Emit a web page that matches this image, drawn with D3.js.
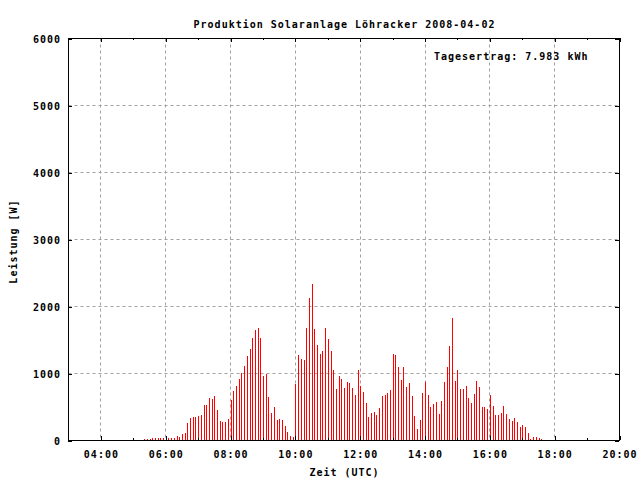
<!DOCTYPE html>
<html>
<head>
<meta charset="utf-8">
<script src="https://cdn.jsdelivr.net/npm/d3@7"></script>
<style>
  html, body { margin: 0; padding: 0; background: #fff; }
  svg text { font-family: "DejaVu Sans Mono", "Liberation Mono", monospace; font-weight: bold; font-size: 10px; letter-spacing: 1px; fill: #000; }
</style>
</head>
<body>
<svg id="chart" width="640" height="480"></svg>
<script>
// ---- data ----
const title = "Produktion Solaranlage Löhracker 2008-04-02";
const yieldLabel = "Tagesertrag: 7.983 kWh";
const xAxisTitle = "Zeit (UTC)";
const yAxisTitle = "Leistung [W]";
const startTime = "05:21";        // first sample
const stepMinutes = 5;            // sampling interval
// power readings in W, one per sample
const power = [
  15, 15, 15, 30, 30, 30, 30, 30, 30, 30,
  30, 30, 60, 45, 95, 105, 255, 330, 345, 345,
  360, 375, 525, 525, 630, 615, 660, 450, 285, 270,
  270, 315, 600, 735, 810, 915, 1005, 1110, 1260, 1365,
  1530, 1650, 1680, 1530, 960, 990, 645, 405, 495, 300,
  315, 300, 210, 120, 60, 45, 845, 1275, 1215, 1200,
  1680, 2130, 2340, 1660, 1425, 1290, 1335, 1680, 1515, 1335,
  1050, 765, 960, 915, 780, 870, 855, 780, 675, 1050,
  810, 720, 555, 345, 405, 420, 375, 480, 660, 675,
  705, 750, 1290, 1275, 1095, 900, 1095, 795, 855, 660,
  360, 165, 300, 705, 870, 675, 495, 540, 570, 390,
  585, 870, 1095, 1410, 1830, 885, 1050, 765, 765, 810,
  630, 555, 690, 885, 795, 495, 495, 465, 675, 510,
  375, 375, 405, 510, 390, 315, 285, 330, 270, 195,
  225, 195, 105, 15, 45, 45, 30, 15
];
const xTickLabels = ["04:00", "06:00", "08:00", "10:00", "12:00", "14:00", "16:00", "18:00", "20:00"];
const yTicks = [0, 1000, 2000, 3000, 4000, 5000, 6000];

// ---- helpers ----
const toMin = s => { const [h, m] = s.split(":").map(Number); return h * 60 + m; };
const t0 = toMin(startTime);
const samples = power.map((v, i) => ({ t: t0 + i * stepMinutes, v }));

const L = 68.5, R = 619.5, T = 38.5, B = 440.5;
const x = d3.scaleLinear().domain([180, 1200]).range([L, R]);
const y = d3.scaleLinear().domain([0, 6000]).range([B, T]);
const crisp = v => Math.round(v - 0.5) + 0.5;

const svg = d3.select("#chart");

// grid
const xMajor = xTickLabels.map(toMin);
const xMinor = d3.range(5 * 60, 20 * 60, 120);
const grid = svg.append("g").attr("stroke", "#a0a0a0").attr("stroke-width", 1).attr("stroke-dasharray", "3,3");
grid.selectAll("line.gx").data(xMajor.filter(m => m < 1200)).join("line")
  .attr("x1", d => crisp(x(d))).attr("x2", d => crisp(x(d)))
  .attr("y1", T).attr("y2", B);
grid.selectAll("line.gy").data(yTicks.filter(v => v > 0 && v < 6000)).join("line")
  .attr("x1", L).attr("x2", R)
  .attr("y1", d => crisp(y(d))).attr("y2", d => crisp(y(d)));

// bars (impulses)
svg.append("g").attr("shape-rendering", "crispEdges").selectAll("rect").data(samples).join("rect")
  .attr("x", d => Math.round(x(d.t) - 0.5))
  .attr("width", 1)
  .attr("y", d => Math.round(y(d.v)))
  .attr("height", d => Math.max(0, 440 - Math.round(y(d.v))))
  .attr("fill", "#ff0000");

// axes using d3 axis generators for ticks (inward)
const axBottom = d3.axisBottom(x).tickValues(xMajor).tickSize(-4).tickFormat("");
const axBottomMinor = d3.axisBottom(x).tickValues(xMinor).tickSize(-2).tickFormat("");
const axTop = d3.axisTop(x).tickValues(xMajor).tickSize(-4).tickFormat("");
const axTopMinor = d3.axisTop(x).tickValues(xMinor).tickSize(-2).tickFormat("");
const axLeft = d3.axisLeft(y).tickValues(yTicks).tickSize(-4).tickFormat("");
const axRight = d3.axisRight(y).tickValues(yTicks).tickSize(-4).tickFormat("");
function styleAxis(g) {
  g.select(".domain").remove();
  g.selectAll(".tick line").attr("stroke", "#000").attr("shape-rendering", "crispEdges");
}
svg.append("g").attr("transform", `translate(0,${B - 0.5})`).call(axBottom).call(styleAxis);
svg.append("g").attr("transform", `translate(0,${B - 0.5})`).call(axBottomMinor).call(styleAxis);
svg.append("g").attr("transform", `translate(0,${T - 0.5})`).call(axTop).call(styleAxis);
svg.append("g").attr("transform", `translate(0,${T - 0.5})`).call(axTopMinor).call(styleAxis);
svg.append("g").attr("transform", `translate(${L - 0.5},0)`).call(axLeft).call(styleAxis);
svg.append("g").attr("transform", `translate(${R - 0.5},0)`).call(axRight).call(styleAxis);

// border
svg.append("rect").attr("x", L).attr("y", T).attr("width", R - L).attr("height", B - T)
  .attr("fill", "none").attr("stroke", "#000").attr("stroke-width", 1);

// tick labels
svg.append("g").selectAll("text").data(yTicks).join("text")
  .attr("x", 61).attr("y", d => y(d) + 4)
  .attr("text-anchor", "end").text(d => d);
svg.append("g").selectAll("text").data(xTickLabels).join("text")
  .attr("x", d => x(toMin(d)) + 0.5).attr("y", 458)
  .attr("text-anchor", "middle").text(d => d);

// titles
svg.append("text").attr("x", (L + R) / 2 + 0.5).attr("y", 28).attr("text-anchor", "middle").text(title);
svg.append("text").attr("x", (L + R) / 2 + 0.5).attr("y", 476).attr("text-anchor", "middle").text(xAxisTitle);
svg.append("text").attr("transform", `translate(17,${(T + B) / 2 + 2}) rotate(-90)`)
  .attr("text-anchor", "middle").text(yAxisTitle);
svg.append("text").attr("x", 434).attr("y", 60).text(yieldLabel);
</script>
</body>
</html>
